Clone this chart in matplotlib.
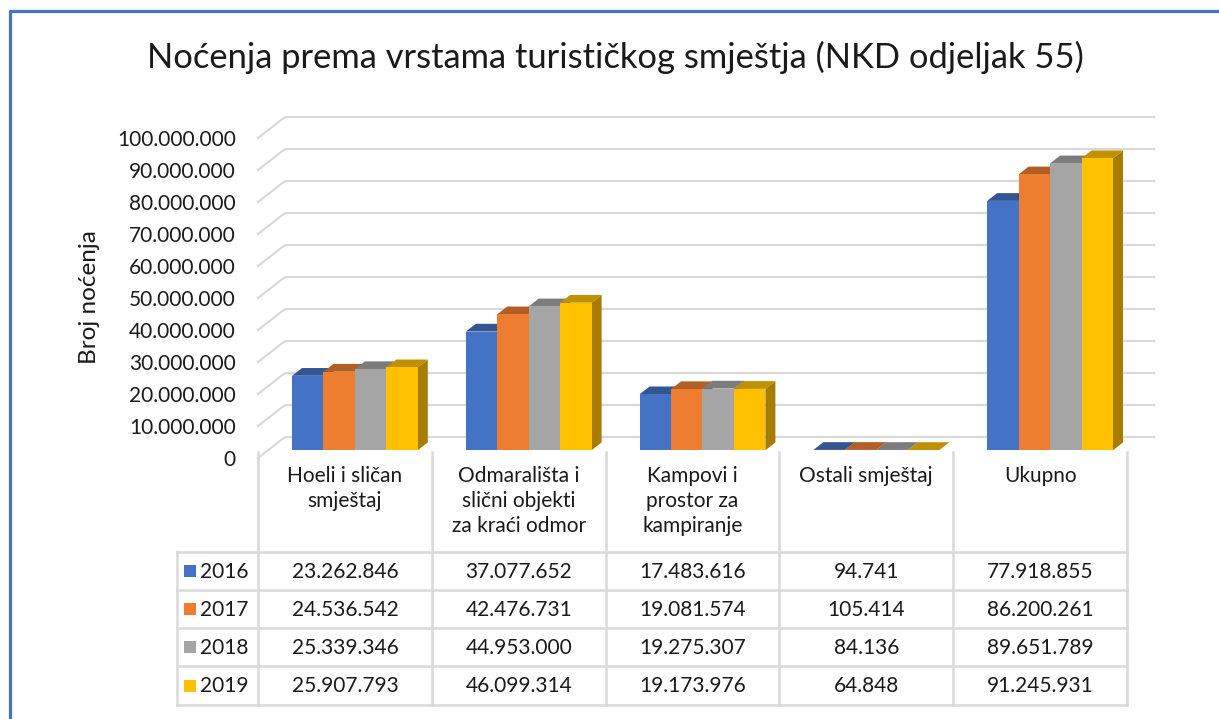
import numpy as np
import matplotlib.pyplot as plt
from matplotlib.patches import Polygon, Rectangle
from matplotlib.lines import Line2D

plt.rcParams['font.family'] = ['Lato', 'DejaVu Sans']

title = "Noćenja prema vrstama turističkog smještja (NKD odjeljak 55)"
ylabel = "Broj noćenja"
categories = ["Hoeli i sličan\nsmještaj", "Odmarališta i\nslični objekti\nza kraći odmor",
              "Kampovi i\nprostor za\nkampiranje", "Ostali smještaj", "Ukupno"]
years = ["2016", "2017", "2018", "2019"]
v2016 = [23262846, 37077652, 17483616, 94741, 77918855]
v2017 = [24536542, 42476731, 19081574, 105414, 86200261]
v2018 = [25339346, 44953000, 19275307, 84136, 89651789]
v2019 = [25907793, 46099314, 19173976, 64848, 91245931]
yticks = list(range(0, 100000001, 10000000))

series = [v2016, v2017, v2018, v2019]
colors = ["#4472C4", "#ED7D31", "#A5A5A5", "#FFC000"]

W, H = 1219, 719
fig = plt.figure(figsize=(W / 100, H / 100), dpi=100)


def fx(px):
    return px / W


def fy(py):
    return 1 - py / H


def fmt(v):
    return f"{int(v):,}".replace(",", ".")


def shade(c, f):
    r, g, b = [int(c[k:k + 2], 16) / 255 for k in (1, 3, 5)]
    return (r * f, g * f, b * f)


# main plot (front plane coordinates)
ax = fig.add_axes([fx(258), fy(458), (1127 - 258) / W, (458 - 138) / H])
ax.set_xlim(-0.5, 4.5)
ax.set_ylim(0, 1e8)
ax.patch.set_visible(False)
for s in ax.spines.values():
    s.set_visible(False)
ax.set_xticks([])
ax.set_yticks(yticks)
ax.set_yticklabels([fmt(v) for v in yticks])
ax.tick_params(axis='y', length=0, pad=16, labelsize=15, labelcolor="#1a1a1a")

# depth of the floor in data units
DX = 27 / 173.8
DY = 21 / 3.2e-6

for v in yticks:
    ax.plot([-0.5, -0.5 + DX, 4.5 + DX], [v, v + DY, v + DY],
            color="#D9D9D9", lw=1.6, clip_on=False, zorder=1)

w = 0.181
margin = (1 - 4 * w) / 2
d1, dd = 0.37, 0.37
for i in range(len(categories)):
    for j, (vals, col) in enumerate(zip(series, colors)):
        v = vals[i]
        x0 = i - 0.5 + margin + j * w + d1 * DX
        y0 = d1 * DY
        z = 2 + j * 0.1
        side = Polygon([(x0 + w, y0), (x0 + w, y0 + v),
                        (x0 + w + dd * DX, y0 + v + dd * DY), (x0 + w + dd * DX, y0 + dd * DY)],
                       closed=True, facecolor=shade(col, 0.65), edgecolor='none',
                       clip_on=False, zorder=z)
        top = Polygon([(x0, y0 + v), (x0 + w, y0 + v),
                       (x0 + w + dd * DX, y0 + v + dd * DY), (x0 + dd * DX, y0 + v + dd * DY)],
                      closed=True, facecolor=shade(col, 0.75), edgecolor='none',
                      clip_on=False, zorder=z + 0.01)
        ax.add_patch(side)
        ax.add_patch(top)
        ax.bar(x0, v, width=w, bottom=y0, align='edge', color=col,
               clip_on=False, zorder=z + 0.02)

# title and axis label
fig.text(fx(615), fy(57), title, ha='center', va='center', fontsize=24.8, color="#1a1a1a")
fig.text(fx(90), fy(297), ylabel, ha='center', va='center', rotation=90,
         fontsize=17.5, color="#1a1a1a")

# data table
left_px = 177
tab = fig.add_axes([fx(left_px), fy(706), (1127 - left_px) / W, (706 - 450) / H])
tab.set_xlim(-0.5 - (258 - left_px) / 173.8, 4.5)
tab.set_ylim(706, 450)
tab.axis('off')
lc = "#D9D9D9"
row_y = [552, 589.5, 627.5, 666, 705]
xl = tab.get_xlim()[0]
for k in range(len(categories) + 1):
    tab.plot([k - 0.5, k - 0.5], [452, 705], color=lc, lw=1.8, clip_on=False)
tab.plot([xl, xl], [552, 705], color=lc, lw=1.8, clip_on=False)
for y in row_y:
    tab.plot([xl, 4.5], [y, y], color=lc, lw=1.8, clip_on=False)

for i, c in enumerate(categories):
    tab.text(i, 466, c, ha='center', va='top', fontsize=15, color="#1a1a1a",
             linespacing=1.3)

sq = 12 / 173.8
for r, (yr, vals, col) in enumerate(zip(years, series, colors)):
    yc = (row_y[r] + row_y[r + 1]) / 2
    tab.add_patch(Rectangle((xl + 7 / 173.8, yc - 6), sq, 12, facecolor=col,
                            edgecolor='none', clip_on=False))
    tab.text(xl + 23 / 173.8, yc + 1, yr, ha='left', va='center', fontsize=15, color="#1a1a1a")
    for i, v in enumerate(vals):
        tab.text(i, yc + 1, fmt(v), ha='center', va='center', fontsize=15, color="#1a1a1a")

# chart border (only top and left visible in the crop)
fig.add_artist(Line2D([fx(9.5), fx(9.5), fx(W + 5)], [fy(H + 5), fy(10.5), fy(10.5)],
                      transform=fig.transFigure, color="#4472C4", lw=2.3))

fig.savefig("out.png", dpi=100)
